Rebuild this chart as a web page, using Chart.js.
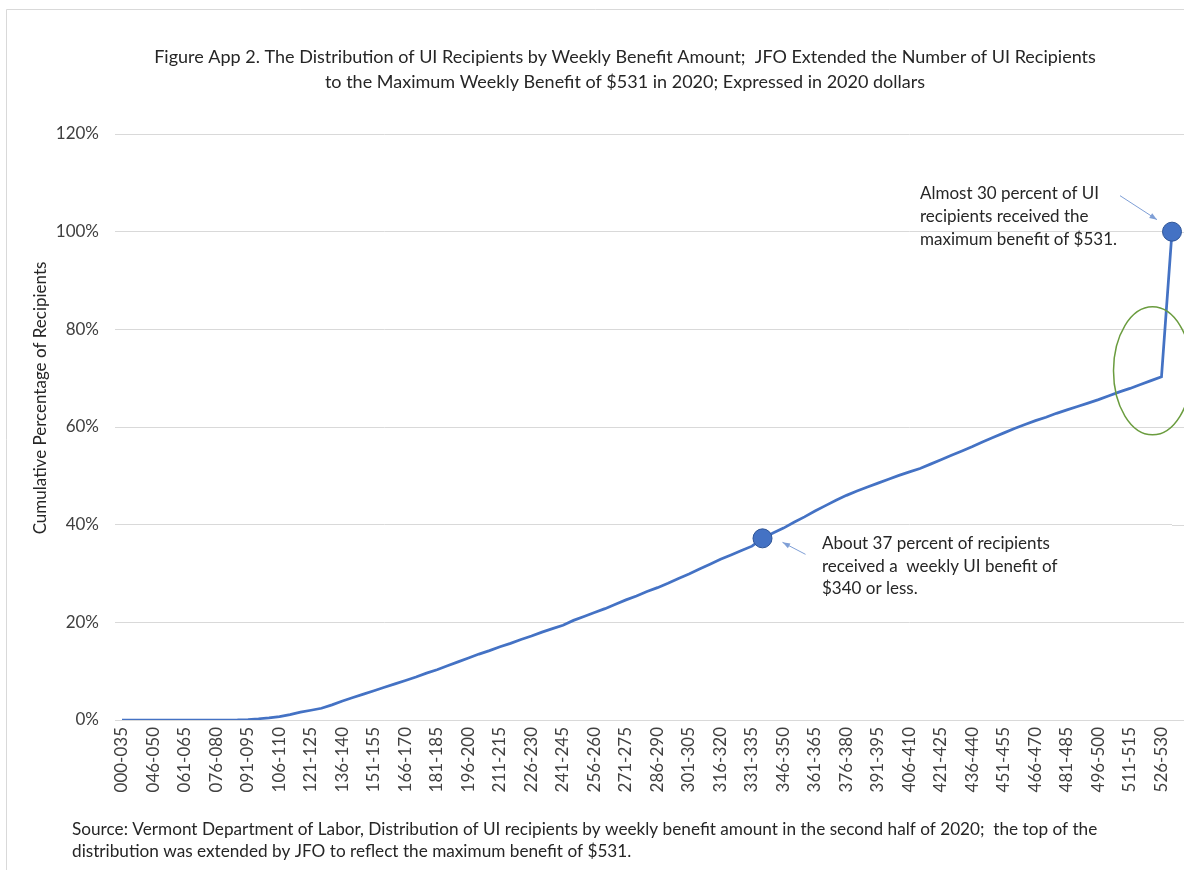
<!DOCTYPE html>
<html>
<head>
<meta charset="utf-8">
<title>Distribution of UI Recipients by Weekly Benefit Amount</title>
<script src="https://cdn.jsdelivr.net/npm/chart.js@4.4.1/dist/chart.umd.min.js"></script>
<style>
  html, body { margin: 0; padding: 0; background: #fff; }
  #wrap { width: 1184px; height: 870px; }
</style>
</head>
<body>
<div id="wrap"><canvas id="uiChart" width="1184" height="870"></canvas></div>
<script>
// ===== Data =====
// weekly benefit bins ($); the last one is the JFO extension to the $531 max
const binLabels = [
  '000-035', '036-040', '041-045', '046-050', '051-055', '056-060', '061-065', '066-070', '071-075', '076-080',
  '081-085', '086-090', '091-095', '096-100', '101-105', '106-110', '111-115', '116-120', '121-125', '126-130',
  '131-135', '136-140', '141-145', '146-150', '151-155', '156-160', '161-165', '166-170', '171-175', '176-180',
  '181-185', '186-190', '191-195', '196-200', '201-205', '206-210', '211-215', '216-220', '221-225', '226-230',
  '231-235', '236-240', '241-245', '246-250', '251-255', '256-260', '261-265', '266-270', '271-275', '276-280',
  '281-285', '286-290', '291-295', '296-300', '301-305', '306-310', '311-315', '316-320', '321-325', '326-330',
  '331-335', '336-340', '341-345', '346-350', '351-355', '356-360', '361-365', '366-370', '371-375', '376-380',
  '381-385', '386-390', '391-395', '396-400', '401-405', '406-410', '411-415', '416-420', '421-425', '426-430',
  '431-435', '436-440', '441-445', '446-450', '451-455', '456-460', '461-465', '466-470', '471-475', '476-480',
  '481-485', '486-490', '491-495', '496-500', '501-505', '506-510', '511-515', '516-520', '521-525', '526-530',
  '531'
];

// cumulative percentage of recipients
const cumulativePct = [
  0, 0, 0, 0, 0, 0, 0, 0, 0, 0,
  0, 0.02, 0.1, 0.25, 0.45, 0.7, 1.1, 1.6, 2.0, 2.4,
  3.1, 3.9, 4.6, 5.3, 6.0, 6.7, 7.4, 8.1, 8.8, 9.6,
  10.3, 11.1, 11.9, 12.7, 13.5, 14.2, 15.0, 15.7, 16.5, 17.2,
  18.0, 18.7, 19.4, 20.4, 21.2, 22.0, 22.8, 23.7, 24.6, 25.4,
  26.3, 27.1, 28.0, 29.0, 29.9, 30.9, 31.9, 32.9, 33.8, 34.7,
  35.6, 37.2, 38.3, 39.3, 40.5, 41.6, 42.8, 43.9, 45.0, 46.0,
  46.9, 47.7, 48.5, 49.3, 50.1, 50.8, 51.5, 52.4, 53.3, 54.2,
  55.1, 56.0, 57.0, 57.9, 58.8, 59.7, 60.5, 61.3, 62.0, 62.8,
  63.5, 64.2, 64.9, 65.6, 66.4, 67.2, 67.9, 68.7, 69.5, 70.3,
  100
];

// bins that get a big marker (the $340 point and the $531 max)
const highlightBins = ['336-340', '531'];

const yTickValues = [0, 20, 40, 60, 80, 100, 120];

const titleLines = [
  'Figure App 2. The Distribution of UI Recipients by Weekly Benefit Amount;  JFO Extended the Number of UI Recipients',
  'to the Maximum Weekly Benefit of $531 in 2020; Expressed in 2020 dollars'
];
const noteMaxLines = ['Almost 30 percent of UI', 'recipients received the', 'maximum benefit of $531.'];
const note340Lines = ['About 37 percent of recipients', 'received a  weekly UI benefit of', '$340 or less.'];
const sourceLines = [
  'Source: Vermont Department of Labor, Distribution of UI recipients by weekly benefit amount in the second half of 2020;  the top of the',
  'distribution was extended by JFO to reflect the maximum benefit of $531.'
];

const FONT = 'Lato, "Open Sans", sans-serif';
const LINE_BLUE = '#4472C4';
const GRID_GREY = '#d9d9d9';
const TEXT_DARK = '#262626';

// ===== Helpers =====
function drawArrow(ctx, x1, y1, x2, y2) {
    const ang = Math.atan2(y2 - y1, x2 - x1);
    ctx.beginPath();
    ctx.moveTo(x1, y1);
    ctx.lineTo(x2, y2);
    ctx.stroke();
    ctx.beginPath();
    ctx.moveTo(x2, y2);
    ctx.lineTo(x2 - 8 * Math.cos(ang - 0.35), y2 - 8 * Math.sin(ang - 0.35));
    ctx.lineTo(x2 - 8 * Math.cos(ang + 0.35), y2 - 8 * Math.sin(ang + 0.35));
    ctx.closePath();
    ctx.fill();
}

function drawLines(ctx, lines, x, y, gap) {
    lines.forEach((t, i) => ctx.fillText(t, x, y + i * gap));
}

// frame, titles, notes and the green ellipse
const decorPlugin = {
    id: 'decor',
    beforeDraw(chart) {
        const ctx = chart.ctx;
        ctx.save();
        ctx.fillStyle = '#fff';
        ctx.fillRect(0, 0, chart.width, chart.height);
        // outer frame of the pasted figure
        ctx.strokeStyle = GRID_GREY;
        ctx.lineWidth = 1;
        ctx.beginPath();
        ctx.moveTo(6.5, chart.height);
        ctx.lineTo(6.5, 9.5);
        ctx.lineTo(chart.width, 9.5);
        ctx.stroke();
        // gridlines run on past the last point in the original
        const y = chart.scales.y;
        const area = chart.chartArea;
        ctx.beginPath();
        y.ticks.forEach(t => {
            const py = Math.round(y.getPixelForValue(t.value)) + 0.5;
            ctx.moveTo(area.right, py);
            ctx.lineTo(chart.width, py);
        });
        ctx.stroke();
        ctx.restore();
    },
    afterDraw(chart) {
        const ctx = chart.ctx;
        const x = chart.scales.x;
        const y = chart.scales.y;
        ctx.save();

        ctx.fillStyle = TEXT_DARK;
        ctx.textBaseline = 'middle';
        ctx.textAlign = 'center';
        ctx.font = '18px ' + FONT;
        drawLines(ctx, titleLines, 625, 57, 25);

        // y axis title
        ctx.save();
        ctx.translate(41, 398);
        ctx.rotate(-Math.PI / 2);
        ctx.font = '17px ' + FONT;
        ctx.fillText('Cumulative Percentage of Recipients', 0, 0);
        ctx.restore();

        ctx.textAlign = 'left';
        ctx.font = '17px ' + FONT;
        drawLines(ctx, noteMaxLines, 920, 194, 23);
        drawLines(ctx, note340Lines, 822, 544, 22.5);
        ctx.font = '17.2px ' + FONT;
        drawLines(ctx, sourceLines, 72, 829, 22);

        // arrows pointing at the two markers
        const iMax = binLabels.indexOf('531');
        const i340 = binLabels.indexOf('336-340');
        const pMaxX = x.getPixelForValue(iMax), pMaxY = y.getPixelForValue(cumulativePct[iMax]);
        const p340X = x.getPixelForValue(i340), p340Y = y.getPixelForValue(cumulativePct[i340]);
        ctx.strokeStyle = '#7f9fd6';
        ctx.fillStyle = '#7f9fd6';
        ctx.lineWidth = 1;
        drawArrow(ctx, pMaxX - 52, pMaxY - 36, pMaxX - 15, pMaxY - 12);
        drawArrow(ctx, p340X + 43, p340Y + 16, p340X + 20, p340Y + 4);

        // green ellipse around the jump
        const last = binLabels.indexOf('526-530');
        const cx = x.getPixelForValue(last) - 9;
        const cy = y.getPixelForValue(71.5);
        ctx.strokeStyle = '#6a9c3e';
        ctx.lineWidth = 1.5;
        ctx.beginPath();
        ctx.ellipse(cx, cy, 39, 64, 0, 0, Math.PI * 2);
        ctx.stroke();

        ctx.restore();
    }
};

document.addEventListener('DOMContentLoaded', () => {
    const ctx = document.getElementById('uiChart').getContext('2d');

    new Chart(ctx, {
        type: 'line',
        data: {
            labels: binLabels,
            datasets: [{
                label: 'Cumulative Percentage of Recipients',
                data: cumulativePct,
                borderColor: LINE_BLUE,
                borderWidth: 2.75,
                tension: 0,
                pointRadius: c => highlightBins.includes(binLabels[c.dataIndex]) ? 9.5 : 0,
                pointBackgroundColor: LINE_BLUE,
                pointBorderColor: '#2f5597',
                pointBorderWidth: 1,
                pointHoverRadius: 0
            }]
        },
        options: {
            responsive: false,
            animation: false,
            layout: { padding: { top: 134, right: 12, left: 0, bottom: 0 } },
            plugins: {
                legend: { display: false },
                tooltip: { enabled: false }
            },
            scales: {
                x: {
                    type: 'category',
                    offset: false,
                    grid: { display: false, drawTicks: false },
                    border: { display: true, color: GRID_GREY, width: 1 },
                    ticks: {
                        autoSkip: false,
                        maxRotation: 90,
                        minRotation: 90,
                        padding: 7,
                        color: '#404040',
                        font: { family: FONT, size: 17 },
                        callback: function (val, idx) {
                            return idx % 3 === 0 ? this.getLabelForValue(val) : '';
                        }
                    },
                    afterFit: s => {
                        s.height = 150;
                        s.paddingLeft = 0;
                        s.paddingRight = 0;
                    }
                },
                y: {
                    min: 0,
                    max: 120,
                    afterBuildTicks: s => { s.ticks = yTickValues.map(v => ({ value: v })); },
                    grid: { color: GRID_GREY, tickLength: 7, tickColor: GRID_GREY },
                    border: { display: false },
                    ticks: {
                        padding: 16,
                        color: '#404040',
                        font: { family: FONT, size: 17 },
                        callback: v => v + '%'
                    },
                    afterFit: s => {
                        s.width = 122;
                        s.paddingTop = 0;
                        s.paddingBottom = 0;
                    }
                }
            }
        },
        plugins: [decorPlugin]
    });
});
</script>
</body>
</html>
